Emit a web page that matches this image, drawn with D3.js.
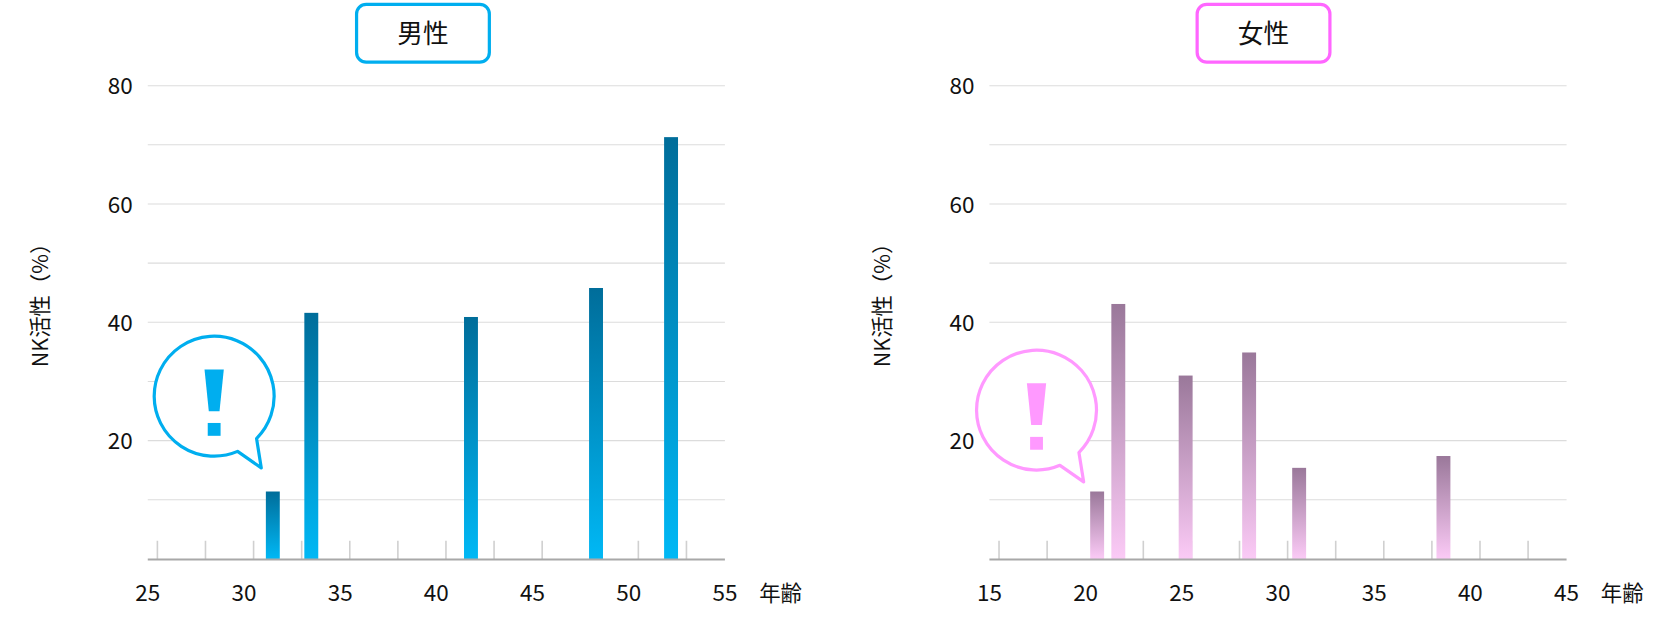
<!DOCTYPE html>
<html><head><meta charset="utf-8">
<script src="https://cdn.jsdelivr.net/npm/d3@7"></script>
<style>body{margin:0;background:#fff;font-family:"Noto Sans CJK JP","Noto Sans",sans-serif}</style>
</head><body><svg id="c" width="1679" height="629"></svg>
<script>
const maleAges = [31.5, 33.5, 41.8, 48.3, 52.2];
const maleValues = [11.4, 41.6, 40.9, 45.8, 71.3];
const femaleAges = [20.6, 21.7, 25.2, 28.5, 31.1, 38.6];
const femaleValues = [11.4, 43.1, 31.0, 34.9, 15.4, 17.4];
const yTicks = [20, 40, 60, 80];

const root = d3.select('#c');
const defs = root.append('defs');
const svg = root.append('g').attr('transform', `scale(${1679 / 1568})`);

function panel(cfg) {
    const x = d3.scaleLinear().domain(cfg.domain).range([cfg.left, cfg.left + 539]);
    const y = d3.scaleLinear().domain([0, 80]).range([522, 80]);
    const g = svg.append('g');

    const grad = defs.append('linearGradient').attr('id', cfg.id)
        .attr('x1', 0).attr('y1', 0).attr('x2', 0).attr('y2', 1);
    grad.append('stop').attr('offset', 0).attr('stop-color', cfg.top);
    grad.append('stop').attr('offset', 1).attr('stop-color', cfg.bottom);

    g.selectAll('line.grid').data(d3.range(10, 81, 10)).join('line')
        .attr('x1', x.range()[0]).attr('x2', x.range()[1])
        .attr('y1', d => y(d)).attr('y2', d => y(d))
        .attr('stroke', '#dcdcdc');

    const ticks = d3.range(cfg.domain[0] + 0.5, cfg.domain[1], 2.5);
    g.selectAll('line.tk').data(ticks).join('line')
        .attr('x1', d => x(d)).attr('x2', d => x(d))
        .attr('y1', 505).attr('y2', 522).attr('stroke', '#d0d0d0').attr('stroke-width', 1.5);

    g.selectAll('rect').data(cfg.ages).join('rect')
        .attr('x', d => x(d) - 6.5).attr('width', 13)
        .attr('y', (d, i) => y(cfg.values[i]))
        .attr('height', (d, i) => y(0) - y(cfg.values[i]))
        .attr('fill', `url(#${cfg.id})`);

    g.append('line').attr('x1', x.range()[0]).attr('x2', x.range()[1])
        .attr('y1', 522.5).attr('y2', 522.5).attr('stroke', '#a8a8a8').attr('stroke-width', 2);

    g.selectAll('text.yl').data(yTicks).join('text')
        .attr('x', cfg.left - 14).attr('y', d => y(d) + 8)
        .attr('text-anchor', 'end').attr('font-size', 21).attr('fill', '#111').text(d => d);

    g.selectAll('text.xl').data(d3.range(cfg.domain[0], cfg.domain[1] + 1, 5)).join('text')
        .attr('x', d => x(d)).attr('y', 561)
        .attr('text-anchor', 'middle').attr('font-size', 21).attr('fill', '#111').text(d => d);

    g.append('text').attr('x', x.range()[1] + 32).attr('y', 561)
        .attr('font-size', 20).attr('fill', '#111').text('年齢');

    g.append('text').attr('transform', `translate(${cfg.left - 93},280) rotate(-90)`)
        .attr('text-anchor', 'middle').attr('font-size', 20).attr('fill', '#111').text('NK活性（%）');

    g.append('rect').attr('x', cfg.boxX).attr('y', 4).attr('width', 124).attr('height', 54)
        .attr('rx', 9).attr('fill', '#fff').attr('stroke', cfg.stroke).attr('stroke-width', 3);
    g.append('text').attr('x', cfg.boxX + 62).attr('y', 40).attr('text-anchor', 'middle')
        .attr('font-size', 24).attr('fill', '#111').text(cfg.title);

    // speech bubble with a tapered "!"
    const r = 56, a0 = Math.PI / 4, a1 = Math.PI * 67 / 180;
    const b = g.append('g').attr('transform', `translate(${cfg.bx},${cfg.by})`);
    const path = `M${r*Math.cos(a1)},${r*Math.sin(a1)} A${r},${r} 0 1 1 ${r*Math.cos(a0)},${r*Math.sin(a0)} L44,67 Z`;
    b.append('path').attr('d', path).attr('fill', '#fff').attr('stroke', cfg.bubble).attr('stroke-width', 3)
        .attr('stroke-linejoin', 'round');
    b.append('path').attr('d', 'M-9,-25 L9,-25 L5,14 L-5,14 Z').attr('fill', cfg.bubble);
    b.append('rect').attr('x', -6).attr('y', 25).attr('width', 12).attr('height', 12).attr('fill', cfg.bubble);
}

panel({id: 'gm', domain: [25, 55], left: 138, ages: maleAges, values: maleValues,
    top: '#006d9a', bottom: '#00b8f5', stroke: '#00aeef', boxX: 333, title: '男性',
    bx: 200, by: 370, bubble: '#00aeef'});
panel({id: 'gf', domain: [15, 45], left: 924, ages: femaleAges, values: femaleValues,
    top: '#9a789a', bottom: '#fbcaf6', stroke: '#ff66ff', boxX: 1118, title: '女性',
    bx: 968, by: 383, bubble: '#ff99ff'});
</script></body></html>
